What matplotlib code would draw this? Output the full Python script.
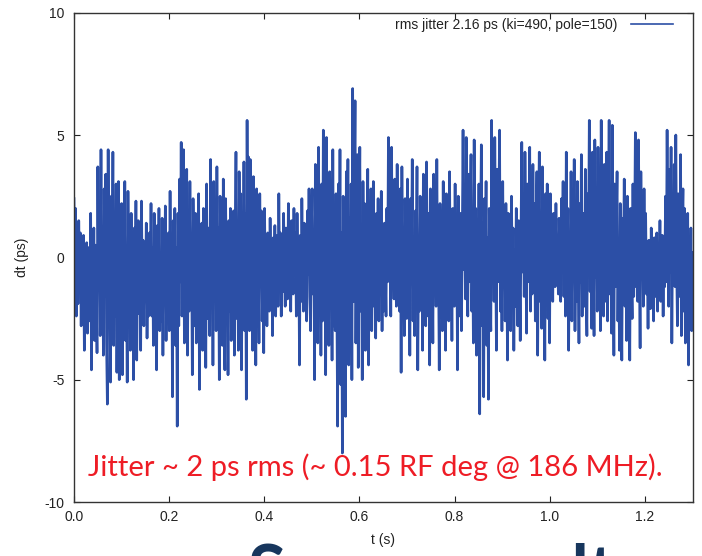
import numpy as np
import matplotlib
matplotlib.use("Agg")
import matplotlib.pyplot as plt

# Timing error trace, dt in ps, in 0.1 s blocks (uniform sampling over 0..1.3 s)
dt_00 = [2.4, -1.5, 2.0, -2.4, 0.8, -1.9, 1.5, -0.6,
         1.0, -2.8, 0.2, -1.5, 0.9, -3.8, -0.2, -2.2, 0.6, -3.1, 0.4, -1.2, -2.6,
         1.8, -4.6, 0.3, -2.0, 1.2, -3.4, 0.5, -1.4, -3.9,
         3.7, -1.0, 2.1, -3.2, 4.4, -2.5, 1.0, -4.0, 2.8, -1.6, 3.4, -3.5, -6.0,
         4.4, -2.2, 0.8, -5.1, 2.5, -1.0, 4.3, -3.6, 1.5, -2.4, 3.0, -4.7, 0.2,
         3.1, -5.0, 1.2, -2.8]
dt_01 = [2.2, -4.8, 0.5, -2.0, 3.1, -3.4, -0.4, -5.1,
         2.7, -1.5, 0.6, -3.8, 1.8, -2.6, 0.9, -5.0, 1.2, -2.0, 2.3, -4.2, -0.6,
         1.5, -2.3, 0.3, -3.8, 2.3, -1.2, 0.7, -2.8, -0.2, -1.8, 1.4, -3.3, 0.0,
         -2.4, 1.0, -1.5,
         2.2, -2.4, 0.4, -3.6, 1.8, -1.0, 0.9, -4.6, 1.3, -2.0, 2.0, -3.0, -0.3,
         -2.6, 1.6, -4.0, 0.8, -1.7, 2.1, -3.4, 0.2, -2.2, 1.0]
dt_02 = [-3.0, 2.7, -1.5, 0.8, -5.7, 1.5, -2.2, 2.0, -3.6, 0.4,
         -6.9, 1.8, -2.8, 3.2,
         -1.0, 4.7, -2.4, 1.5, 4.4, -3.5, 2.2, -0.8, 3.6,
         -4.0, 1.0, -2.2, 3.1, -1.2, 0.6, -4.8, 2.4, -0.5, -2.8, 1.8, -3.5, 0.9,
         -1.6, 2.6, -5.4, 0.2, -2.0, 1.4, -3.8, 2.0, -1.0, 0.5, -4.5, 3.0, -2.5,
         1.2, -1.8, -3.2,
         4.0, -1.4, 2.2, -4.4, 3.1, -0.6, 1.6, -3.0]
dt_03 = [3.7, -2.0, 1.2, -5.0, 2.5, -1.0, 0.4, -3.6, 3.2, -2.4, -4.6,
         2.4, -1.6, 0.8, -4.8, 1.5, -2.2, 2.0, -3.4, -0.4, -1.8, 1.9, -4.0, 0.6,
         4.3, -2.5, 1.5, -3.8, 3.5, -1.2, 2.6, -4.6, 0.9, -2.0, 3.9, -3.0, 1.8, -5.8,
         5.6, -1.5, 4.1,
         -3.0, 4.0, -1.4, 2.2, -3.8, 3.3, -0.8, 1.2, -4.4, 2.8, -2.0, 0.6, -3.5,
         2.6, -1.2, 1.9, -2.6, 0.4, -3.9]
dt_04 = [2.0, -1.2, 0.3, -2.8, 1.0, -0.6, -2.2, 1.6, -1.0, 0.2, -3.2, 0.8,
         -1.6, 1.3, -2.4, -0.2, 0.9, -2.0,
         2.6, -0.8, 1.0, -2.4, 0.4, -1.4, 1.8, -0.4, -2.0, 1.2, 0.0, -1.7, 2.2,
         -1.0, 0.6, -2.2, 1.5, -0.3, -1.5, 2.0,
         -0.6, 1.0, -2.4, 1.8, -1.1, 0.5, -4.4, 0.9, -1.8, 2.4, -0.5, -2.2, 1.4,
         -1.2, 0.2, -2.6, 1.9, -0.7, 2.8, -1.6, -3.0, 1.2]
dt_05 = [2.8, -1.5, 0.8, -5.0, 3.8, -2.0, 1.2, -3.5, 4.5, -0.8, 2.0, -4.0, 3.0, -2.6,
         5.2, -1.2, 2.4, -4.8, 4.9, -2.0, 0.9, -3.6, 3.5, -0.5, 1.8, -4.2, 4.4,
         -2.8, 0.2, -3.0, 2.6, -1.6,
         -6.9, 3.0, -2.4, 4.4, -5.2, 1.0, -8.0, 2.5, -3.4, 0.5,
         -6.5, 3.5, -1.4, 4.0, -4.4, 1.6, -2.5, 3.0, -5.0,
         6.9, -1.8, 2.8, 6.4, -3.5, 1.5, 4.2, -4.5, 0.8]
dt_06 = [4.5, -2.2, 1.2, -5.0, 3.1, -1.0, 2.2, -3.8, 0.4, -2.6, 3.6, -4.4, 1.5,
         -1.6, 2.8, -3.0, -0.2,
         3.1, -2.0, 0.6, -3.3, 1.8, -1.2, 2.4, -2.6, 0.2, -1.5, 2.7, -3.0, 0.9,
         -2.2, 1.4, -0.6, -2.4, 2.0, -1.0,
         4.9, -0.8, 2.5, -2.4, 4.5, -1.2, 1.0, -1.7, 3.2, 0.2, -2.0, 3.8, -0.4,
         1.8, -2.2, 2.8,
         -4.7, 3.7, -1.5, 1.0, -3.2, 2.4, -0.6, -2.5]
dt_07 = [3.2, -1.8, 1.0, -4.0, 2.4, -0.5, 4.0, -2.6, 0.8, -3.2, 1.9, -1.0, 3.7,
         -4.6, 0.3, -2.2, 2.5, -0.8, 1.2, -3.8,
         3.4, -1.4, 0.5, -2.8, 3.9, -0.2, -2.4, 1.8, -4.4, 2.8, -1.2, 0.6, -3.5,
         3.4, -0.6, 1.5, -2.0, 4.0, -1.6, 0.2,
         -4.6, 2.2, -0.9, 1.4, -3.0, 3.1, -2.2, 0.7, -3.8, 2.6, -0.4, 1.6, -2.6,
         3.5, -1.1, 0.4, -3.4, 2.0, -0.7, -2.0]
dt_08 = [3.0, -1.2, 1.0, -4.6, 2.5, -0.4, -2.4, 1.8, -3.0, 0.6,
         5.2, -0.5, 2.6, -1.7, 4.9, 0.8, -2.4, 3.4, -1.0, 1.5,
         4.2, -2.2, 0.9, -3.5, 4.8, -1.4, 2.0, -4.0, 1.2, -2.6, 3.0, -6.4, 0.5,
         4.6, -2.8, 1.4, -5.7, 2.4, -0.8, 3.1, -3.6, 0.8, -5.8, 2.0, -1.6, -3.0,
         5.6, -0.6, 2.8, -1.8, 4.9, 0.4, -3.8, 3.6, -1.0, 1.6, 5.2, -2.2, 0.9, -3.0]
dt_09 = [3.1, -1.0, 0.8, -2.6, 2.2, -0.4, -4.2, 1.8, -1.6, 0.5, -3.0, 2.5,
         -0.8, 1.2, -3.8, 0.3, -2.0, 2.0, -1.2, -2.8, 1.5, -0.2, -3.4, 1.0,
         4.7, -0.6, 2.4, -1.6, 4.3, 0.6, -3.1, 3.0, -1.0, 1.8, 4.5, -2.2, 0.4,
         -1.5, 3.8, -0.8, 2.2, -2.6, 1.0, 3.5,
         -4.0, 1.2, 4.3, -1.8, 0.6, -2.9, 3.7, -0.4, 1.5, -4.2, 2.6, -1.2, 3.0,
         -2.5, 0.8, -3.5]
dt_10 = [2.6, -1.0, 0.8, -1.8, 1.8, 0.2, -1.2, 2.2, -0.5, 0.9, -1.5, 1.6,
         -0.2, -1.8, 2.4, 0.0,
         3.1, -1.6, 1.0, -2.4, 4.3, -0.6, 2.0, -3.8, 0.5, -1.2, 3.5, -2.6, 1.4,
         -0.4, 4.0, -3.0, 0.8, -1.8, 3.1, -0.2, -3.5, 2.2, -1.0, 4.2, -2.4, 0.6,
         1.8, -2.0, 3.6, -1.2, -3.2, 2.6, 0.2,
         5.6, -1.4, 2.8, -2.9, 4.3, 0.5, -3.2, 4.8, -0.8, 2.0, -2.2]
dt_11 = [4.5, -1.0, 2.2, -3.0, 5.6, -0.5, 1.6, -2.4, 3.8, 0.4, -1.8, 4.3, -2.6, 1.2,
         5.6, -1.5, 2.5, -3.1, 5.4, -0.2, -4.0, 3.0, -1.2, 1.4,
         3.5, -2.6, 0.6, -3.8, 2.2, -1.0, -4.2, 1.6, -0.4, 3.2, -2.0, 0.2, -3.4,
         2.5, -1.4, 1.0, -4.2, 2.0, -0.8, -2.5, 3.0, -1.6, 0.5,
         5.1, -1.2, 2.4, -1.8, 4.8, 0.2, -3.7, 3.5, -0.6, 1.8, -2.0, 2.8, -1.0]
dt_12 = [1.8, -1.5, 0.2, -2.9, 0.7, -0.8, -2.1, 1.2, -1.2, 0.0, -2.6, 0.8,
         -1.6, -0.4, 1.0, -2.2, 0.3, -1.0, 1.5, -1.8, -0.2, 0.9, -2.4, 0.4, -1.2,
         2.5, -1.0, 5.2, 0.4, -2.0, 3.6, -0.6, 4.5, -3.5, 1.8, 0.2, 3.8, -1.2,
         5.0, -0.2, -2.8, 2.6, 0.6, -1.6, 4.2, -3.2, 1.2, 2.8, -2.2,
         2.0, -3.5, 0.8, -1.4, 1.8, -4.4, 0.5, -2.6, 1.2, -3.0, 0.2]

t_end = 1.3
x_ticks = [0.0, 0.2, 0.4, 0.6, 0.8, 1.0, 1.2]
y_ticks = [-10, -5, 0, 5, 10]
legend_label = "rms jitter 2.16 ps (ki=490, pole=150)"
note = "Jitter ~ 2 ps rms (~ 0.15 RF deg @ 186 MHz)."
slide_heading = "Some results with"

dt = np.concatenate([dt_00, dt_01, dt_02, dt_03, dt_04, dt_05, dt_06,
                     dt_07, dt_08, dt_09, dt_10, dt_11, dt_12])
t = np.linspace(0.0, t_end, len(dt))

W, H = 702, 556
fig = plt.figure(figsize=(W / 100, H / 100), dpi=100)
fig.patch.set_facecolor("white")

left, right, top, bottom = 74, 692.5, 12.7, 502
ax = fig.add_axes([left / W, 1 - bottom / H, (right - left) / W, (bottom - top) / H])

plot_font = "Liberation Sans"
trace_color = "#2c4fa6"

ax.plot(t, dt, color=trace_color, lw=1.9, label=legend_label)

ax.set_xlim(0, t_end)
ax.set_ylim(-10, 10)
ax.set_xticks(x_ticks)
ax.set_xticklabels([f"{v:.1f}" for v in x_ticks], fontfamily=plot_font, fontsize=10)
ax.set_yticks(y_ticks)
ax.set_yticklabels([f"{v:d}" for v in y_ticks], fontfamily=plot_font, fontsize=10)
ax.tick_params(direction="in", length=4.5, width=0.8, color="#222222",
               top=True, right=True, labelcolor="#222222")
ax.tick_params(axis="x", pad=6)
ax.tick_params(axis="y", pad=7)
for s in ax.spines.values():
    s.set_linewidth(1.0)
    s.set_color("#333333")

ax.set_xlabel("t (s)", fontfamily=plot_font, fontsize=10, color="#222222", labelpad=6)
ax.set_ylabel("dt (ps)", fontfamily=plot_font, fontsize=10, color="#222222", labelpad=11)

leg = ax.legend(loc="upper right", frameon=False, markerfirst=False,
                prop={"family": plot_font, "size": 10}, handlelength=3.0,
                handletextpad=1.0, borderpad=0.0, borderaxespad=0.0,
                bbox_to_anchor=(1 - 20 / (right - left), 1 - 5 / (bottom - top)))
for txt in leg.get_texts():
    txt.set_color("#222222")
for line in leg.get_lines():
    line.set_linewidth(1.2)

fig.text(375 / W, 1 - 467 / H, note, color="#ee1c25", fontsize=21,
         fontfamily="Lato", ha="center", va="center")

fig.text(248 / W, 1 - 594 / H, slide_heading, color="#17365d", fontsize=50,
         fontfamily="Lato", fontweight="bold", ha="left", va="baseline")

fig.savefig("out.png", dpi=100, facecolor="white")
